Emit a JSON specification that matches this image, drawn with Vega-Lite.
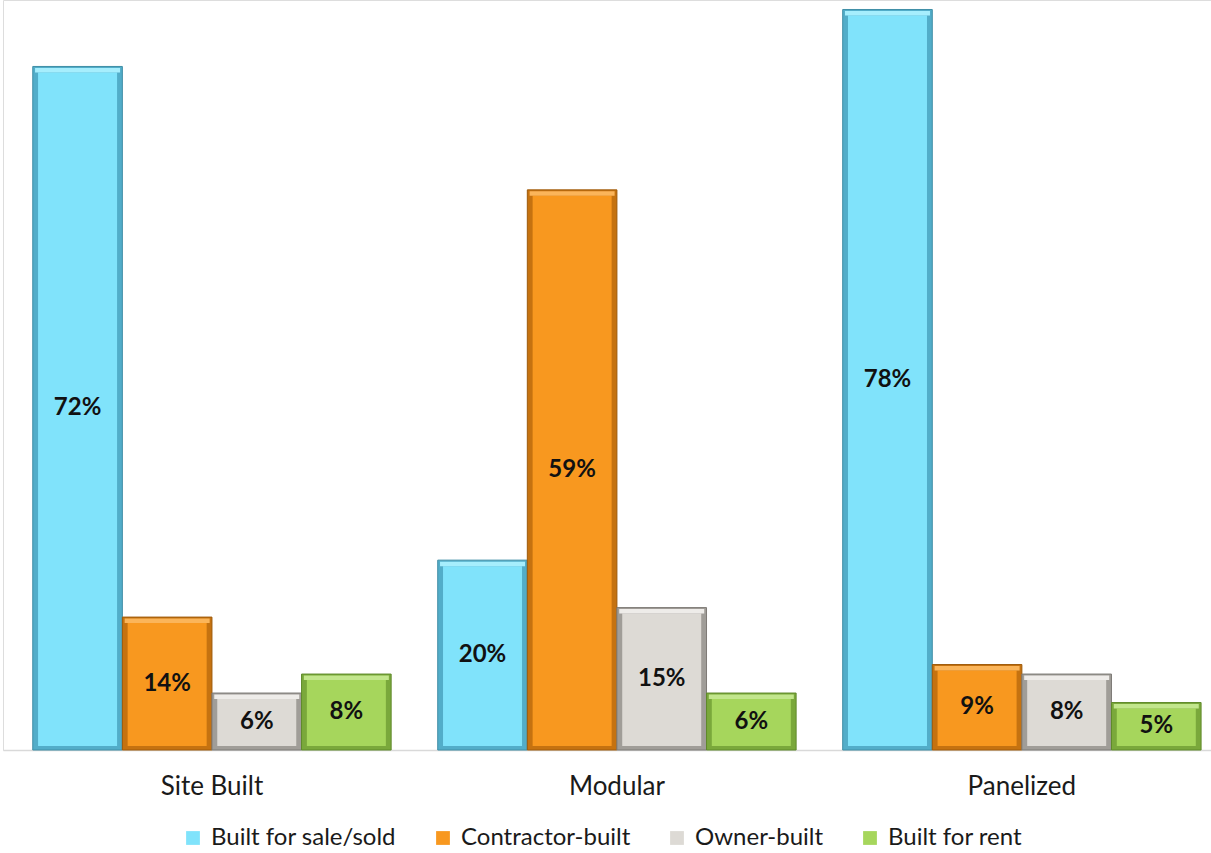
{
  "$schema": "https://vega.github.io/schema/vega-lite/v6.json",
  "width": 1208,
  "height": 750,
  "padding": {"left": 3, "top": 0, "right": 0, "bottom": 0},
  "background": "white",
  "data": {
    "values": [
      {"type": "Site Built", "series": "Built for sale/sold", "share": 0.72},
      {"type": "Site Built", "series": "Contractor-built", "share": 0.14},
      {"type": "Site Built", "series": "Owner-built", "share": 0.06},
      {"type": "Site Built", "series": "Built for rent", "share": 0.08},
      {"type": "Modular", "series": "Built for sale/sold", "share": 0.20},
      {"type": "Modular", "series": "Contractor-built", "share": 0.59},
      {"type": "Modular", "series": "Owner-built", "share": 0.15},
      {"type": "Modular", "series": "Built for rent", "share": 0.06},
      {"type": "Panelized", "series": "Built for sale/sold", "share": 0.78},
      {"type": "Panelized", "series": "Contractor-built", "share": 0.09},
      {"type": "Panelized", "series": "Owner-built", "share": 0.08},
      {"type": "Panelized", "series": "Built for rent", "share": 0.05}
    ]
  },
  "encoding": {
    "x": {
      "field": "type",
      "type": "nominal",
      "sort": ["Site Built", "Modular", "Panelized"],
      "title": null,
      "scale": {"paddingInner": 0.115, "paddingOuter": 0.049, "align": 0.75},
      "axis": {
        "labelAngle": 0,
        "labelFont": "Lato",
        "labelFontSize": 26,
        "labelColor": "#1a1a1a",
        "labelPadding": 23,
        "ticks": false,
        "domainColor": "#d9d9d9",
        "domainWidth": 1.5
      }
    },
    "xOffset": {
      "field": "series",
      "type": "nominal",
      "sort": ["Built for sale/sold", "Contractor-built", "Owner-built", "Built for rent"],
      "scale": {"paddingInner": 0, "paddingOuter": 0}
    }
  },
  "layer": [
    {
      "encoding": {
        "y": {
          "field": "share",
          "type": "quantitative",
          "scale": {"domain": [0, 0.79], "nice": false, "zero": true},
          "axis": null
        }
      },
      "layer": [
        {
          "description": "Bevel edge: full-size bar in a darker shade with a thin dark outline",
          "mark": {"type": "bar", "strokeWidth": 1},
          "encoding": {
            "color": {
              "field": "series",
              "type": "nominal",
              "scale": {
                "domain": ["Built for sale/sold", "Contractor-built", "Owner-built", "Built for rent"],
                "range": ["#52adc9", "#c57210", "#a09d98", "#7aa83b"]
              },
              "legend": null
            },
            "stroke": {
              "field": "series",
              "type": "nominal",
              "scale": {
                "domain": ["Built for sale/sold", "Contractor-built", "Owner-built", "Built for rent"],
                "range": ["#3f8ea6", "#9e5a0a", "#7d7a76", "#5f8a2a"]
              },
              "legend": null
            }
          }
        },
        {
          "description": "Bar face, inset inside the bevel edge",
          "mark": {"type": "bar", "width": 79, "yOffset": 6, "y2Offset": -4},
          "encoding": {
            "y2": {"datum": 0},
            "color": {
              "field": "series",
              "type": "nominal",
              "scale": {
                "domain": ["Built for sale/sold", "Contractor-built", "Owner-built", "Built for rent"],
                "range": ["#80e3fb", "#f8981f", "#dddad5", "#a6d65c"]
              },
              "legend": {
                "title": null,
                "orient": "none",
                "direction": "horizontal",
                "legendX": 178,
                "legendY": 826,
                "symbolType": "square",
                "symbolSize": 190,
                "symbolStrokeWidth": 0,
                "labelFont": "Lato",
                "labelFontSize": 24,
                "labelColor": "#1a1a1a",
                "labelOffset": 6,
                "labelLimit": 400,
                "columnPadding": 34
              }
            }
          }
        },
        {
          "description": "Light highlight along the top edge of each bar",
          "mark": {"type": "bar", "width": 85, "yOffset": 1.5, "y2Offset": 6},
          "encoding": {
            "y2": {"field": "share"},
            "color": {
              "field": "series",
              "type": "nominal",
              "scale": {
                "domain": ["Built for sale/sold", "Contractor-built", "Owner-built", "Built for rent"],
                "range": ["#a6eefd", "#fbb55a", "#eeece9", "#c2e68c"]
              },
              "legend": null
            }
          }
        }
      ],
      "resolve": {"scale": {"color": "independent"}}
    },
    {
      "mark": {"type": "text", "font": "Lato", "fontWeight": "bold", "fontSize": 24, "color": "#111111", "baseline": "middle"},
      "encoding": {
        "y": {
          "field": "share",
          "type": "quantitative",
          "scale": {"domain": [0, 1.58], "nice": false, "zero": true},
          "axis": null
        },
        "text": {"field": "share", "type": "quantitative", "format": ".0%"}
      }
    }
  ],
  "resolve": {"scale": {"y": "independent", "color": "independent"}}
}
